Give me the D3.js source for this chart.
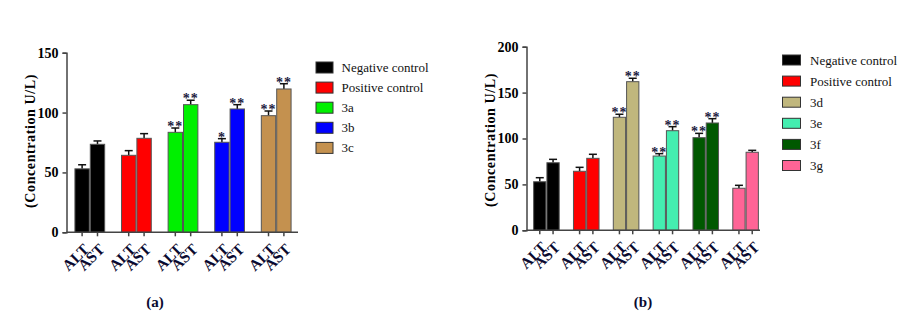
<!DOCTYPE html>
<html>
<head>
<meta charset="utf-8">
<script src="https://cdn.jsdelivr.net/npm/d3@7"></script>
<style>
  body { margin: 0; background: #fff; }
  svg text { font-family: "Liberation Serif", "Times New Roman", Times, "DejaVu Serif", serif; }
</style>
</head>
<body>
<svg id="chart" width="911" height="320"></svg>
<script>
// panel (a)
const groupsA = ['Negative control', 'Positive control', '3a', '3b', '3c'];
const colorsA = ['#000000', '#ff0000', '#00f000', '#0000ff', '#c4914f'];
const altA = [53, 64.3, 83.5, 75.2, 97.4];
const astA = [73.5, 78.5, 106.6, 103, 119.7];
const altErrA = [3.4, 3.9, 3.6, 3, 3.9];
const astErrA = [2.8, 3.9, 3.7, 3.6, 4.4];
const sigAltA = ['', '', '**', '*', '**'];
const sigAstA = ['', '', '**', '**', '**'];
const yTicksA = [0, 50, 100, 150];

// panel (b)
const groupsB = ['Negative control', 'Positive control', '3d', '3e', '3f', '3g'];
const colorsB = ['#000000', '#ff0000', '#c0b77d', '#44eeb0', '#005800', '#ff6496'];
const altB = [52.9, 64.3, 123.1, 80.9, 100.9, 45.8];
const astB = [73.6, 78.4, 161.9, 108.5, 116.9, 85];
const altErrB = [4.4, 4.3, 3.3, 2.6, 4.7, 3.2];
const astErrB = [3.7, 4.4, 3.7, 4.4, 4.7, 2.1];
const sigAltB = ['', '', '**', '**', '**', ''];
const sigAstB = ['', '', '**', '**', '**', ''];
const yTicksB = [0, 50, 100, 150, 200];

const measures = ['ALT', 'AST'];
const serif = '"Liberation Serif", "Times New Roman", Times, "DejaVu Serif", serif';
const svg = d3.select('#chart');

function drawPanel(cfg) {
  const g = svg.append('g').attr('font-family', serif);

  const y = d3.scaleLinear().domain([0, cfg.yMax]).range([cfg.y0, cfg.y1]);
  const x = d3.scaleBand()
    .domain(cfg.groups)
    .range([cfg.x0, cfg.x1])
    .paddingInner(cfg.pad)
    .paddingOuter(cfg.pad / 2);
  const xi = d3.scaleBand().domain(measures).range([0, x.bandwidth()]);

  const rows = [];
  cfg.groups.forEach((grp, i) => {
    rows.push({ grp, m: 'ALT', v: cfg.alt[i], e: cfg.altErr[i], s: cfg.sigAlt[i], c: cfg.colors[i] });
    rows.push({ grp, m: 'AST', v: cfg.ast[i], e: cfg.astErr[i], s: cfg.sigAst[i], c: cfg.colors[i] });
  });
  const cx = d => x(d.grp) + xi(d.m) + xi.bandwidth() / 2;

  // error bars (upper only)
  const eb = g.append('g').attr('stroke', '#111').attr('stroke-width', 1.5);
  eb.selectAll('.stem').data(rows).join('line')
    .attr('x1', cx).attr('x2', cx)
    .attr('y1', d => y(d.v)).attr('y2', d => y(d.v + d.e));
  eb.selectAll('.cap').data(rows).join('line')
    .attr('x1', d => cx(d) - 4).attr('x2', d => cx(d) + 4)
    .attr('y1', d => y(d.v + d.e)).attr('y2', d => y(d.v + d.e));

  // bars
  g.append('g').selectAll('rect').data(rows).join('rect')
    .attr('x', d => x(d.grp) + xi(d.m) + 0.5)
    .attr('y', d => y(d.v))
    .attr('width', xi.bandwidth() - 1)
    .attr('height', d => y(0) - y(d.v))
    .attr('fill', d => d.c)
    .attr('stroke', '#555')
    .attr('stroke-width', 1);

  // significance stars
  g.append('g').selectAll('text').data(rows.filter(d => d.s)).join('text')
    .attr('x', cx)
    .attr('y', d => y(d.v + d.e) + 3)
    .attr('text-anchor', 'middle')
    .attr('font-size', 14)
    .attr('font-weight', 'bold')
    .attr('letter-spacing', 1)
    .attr('fill', '#1a1a40')
    .text(d => d.s);

  // y axis
  const yAxis = g.append('g')
    .attr('transform', `translate(${cfg.x0},0)`)
    .call(d3.axisLeft(y).tickValues(cfg.yTicks).tickSize(4).tickPadding(4).tickSizeOuter(4))
    .attr('font-family', serif);
  yAxis.select('.domain').attr('stroke', '#444').attr('stroke-width', 1.5);
  yAxis.selectAll('.tick line').attr('stroke', '#444').attr('stroke-width', 1.5);
  yAxis.selectAll('.tick text')
    .attr('font-size', 14)
    .attr('font-weight', 'bold')
    .attr('fill', '#000');

  // x axis line and ticks
  g.append('line')
    .attr('x1', cfg.x0).attr('x2', cfg.xEnd)
    .attr('y1', y(0)).attr('y2', y(0))
    .attr('stroke', '#444').attr('stroke-width', 1.5);
  g.append('g').selectAll('line').data(rows).join('line')
    .attr('x1', cx).attr('x2', cx)
    .attr('y1', y(0)).attr('y2', y(0) + 4)
    .attr('stroke', '#444').attr('stroke-width', 1.5);
  g.append('g').selectAll('text').data(rows).join('text')
    .attr('transform', d => `translate(${cx(d) + 8},${y(0) + 18}) rotate(-45)`)
    .attr('text-anchor', 'end')
    .attr('font-size', 15.5)
    .attr('font-weight', 'bold')
    .attr('fill', '#0a0a30')
    .text(d => d.m);

  // y label
  g.append('text')
    .attr('transform', `translate(${cfg.labelX},${cfg.labelY}) rotate(-90)`)
    .attr('text-anchor', 'middle')
    .attr('font-size', 14)
    .attr('font-weight', 'bold')
    .attr('letter-spacing', 0.6)
    .text('(Concentration U/L)');

  // caption
  g.append('text')
    .attr('x', cfg.capX).attr('y', 307)
    .attr('text-anchor', 'middle')
    .attr('font-size', 15)
    .attr('font-weight', 'bold')
    .attr('fill', '#0a0a30')
    .text(cfg.caption);

  // legend
  const lg = g.append('g').attr('transform', `translate(${cfg.legX},${cfg.legY})`);
  const item = lg.selectAll('g').data(cfg.groups).join('g')
    .attr('transform', (d, i) => `translate(0,${i * cfg.legStep})`);
  item.append('rect')
    .attr('width', cfg.boxW).attr('height', cfg.boxH)
    .attr('fill', (d, i) => cfg.colors[i])
    .attr('stroke', '#333').attr('stroke-width', 1);
  item.append('text')
    .attr('x', cfg.textDx).attr('y', cfg.boxH / 2 + 4.5)
    .attr('font-size', 13)
    .attr('fill', '#111')
    .text(d => d);
}

drawPanel({
  groups: groupsA, colors: colorsA, alt: altA, ast: astA,
  altErr: altErrA, astErr: astErrA, sigAlt: sigAltA, sigAst: sigAstA,
  yMax: 150, yTicks: yTicksA, y0: 232.3, y1: 52.7,
  x0: 66.5, x1: 299.5, xEnd: 298, pad: 0.34,
  labelX: 35, labelY: 141, capX: 155, caption: '(a)',
  legX: 316, legY: 62, legStep: 20.1, boxW: 17, boxH: 11, textDx: 25.5
});

drawPanel({
  groups: groupsB, colors: colorsB, alt: altB, ast: astB,
  altErr: altErrB, astErr: astErrB, sigAlt: sigAltB, sigAst: sigAstB,
  yMax: 200, yTicks: yTicksB, y0: 230.3, y1: 46.7,
  x0: 526.5, x1: 765.5, xEnd: 760, pad: 0.333,
  labelX: 495, labelY: 140, capX: 643, caption: '(b)',
  legX: 782.5, legY: 55, legStep: 21.1, boxW: 18, boxH: 10, textDx: 27.5
});
</script>
</body>
</html>
